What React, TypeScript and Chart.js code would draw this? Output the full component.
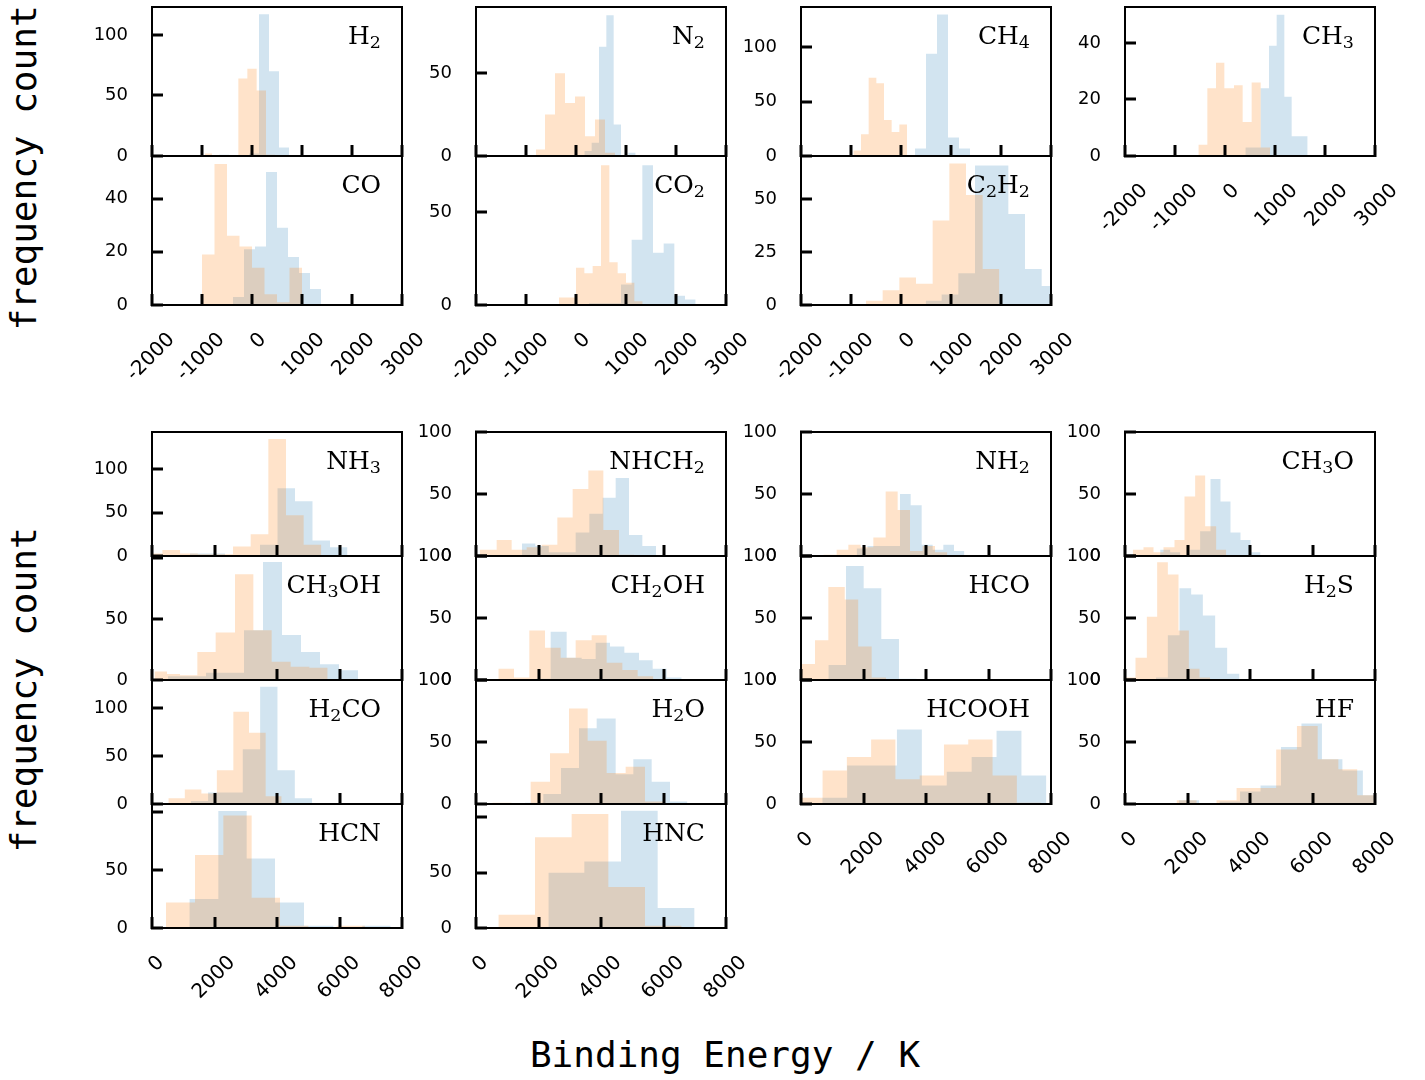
import React, { useEffect, useRef } from "react";
import { Chart, registerables } from "chart.js";

Chart.register(...registerables);

// ---------- tick labels ----------
const topXTicks = [-2000, -1000, 0, 1000, 2000, 3000];
const bottomXTicks = [0, 2000, 4000, 6000, 8000];

// ---------- top block (x: -2000..3000) ----------
const h2OrangeEdges = [-940, -800, -273, -93, 93, 280, 460];
const h2OrangeCounts = [2, 0, 64, 72, 54, 1];
const h2BlueEdges = [-660, -460, -260, -60, 140, 340, 540, 740];
const h2BlueCounts = [1, 0, 0, 2, 117, 70, 7];

const n2OrangeEdges = [-800, -620, -420, -220, -20, 180, 380, 580, 780];
const n2OrangeCounts = [4, 25, 50, 32, 36, 12, 22, 2];
const n2BlueEdges = [167, 313, 460, 607, 753, 900, 1047, 1193];
const n2BlueCounts = [3, 8, 66, 85, 19, 0, 2];

const ch4OrangeEdges = [-953, -800, -647, -493, -340, -187, -33, 120, 273];
const ch4OrangeCounts = [5, 20, 72, 67, 33, 22, 29, 1];
const ch4BlueEdges = [280, 500, 720, 940, 1160, 1380];
const ch4BlueCounts = [7, 94, 130, 17, 7];

const ch3OrangeEdges = [-533, -353, -180, -13, 180, 353, 533, 713, 900];
const ch3OrangeCounts = [4, 24, 33, 24, 25, 12, 26, 3];
const ch3BlueEdges = [407, 560, 713, 880, 1033, 1187, 1333, 1493, 1653];
const ch3BlueCounts = [3, 3, 24, 39, 50, 21, 7, 7];

const coOrangeEdges = [-1000, -750, -500, -250, 0, 250, 500, 750, 1000];
const coOrangeCounts = [19, 53, 26, 22, 14, 4, 1, 14];
const coBlueEdges = [-380, -160, 60, 280, 500, 720, 940, 1160, 1380];
const coBlueCounts = [3, 21, 22, 50, 29, 18, 12, 6];

const co2OrangeEdges = [-340, -173, 0, 167, 333, 500, 667, 833, 1000, 1167, 1333];
const co2OrangeCounts = [4, 4, 20, 17, 21, 75, 23, 17, 12, 2];
const co2BlueEdges = [260, 473, 687, 900, 1113, 1327, 1540, 1753, 1967, 2180, 2393];
const co2BlueCounts = [1, 1, 1, 11, 35, 75, 28, 33, 5, 3];

const c2h2OrangeEdges = [-700, -367, -33, 300, 633, 967, 1300, 1633, 1967];
const c2h2OrangeCounts = [2, 7, 13, 10, 40, 67, 52, 17];
const c2h2BlueEdges = [493, 813, 1147, 1480, 1813, 2147, 2480, 2813, 3147];
const c2h2BlueCounts = [2, 5, 15, 66, 66, 43, 17, 9];

// ---------- bottom block (x: 0..8000) ----------
const nh3OrangeEdges = [-232, 333, 898, 1463, 2028, 2593, 3158, 3723, 4288, 4853, 5418];
const nh3OrangeCounts = [3, 7, 3, 2, 2, 11, 25, 135, 47, 13];
const nh3BlueEdges = [1216, 1776, 2336, 2896, 3456, 4016, 4576, 5136, 5696, 6256];
const nh3BlueCounts = [3, 3, 1, 1, 13, 78, 63, 18, 10];

const ch3ohOrangeEdges = [80, 480, 896, 1451, 2037, 2656, 3243, 3829, 4437, 5035, 5621];
const ch3ohOrangeCounts = [7, 5, 4, 23, 39, 87, 41, 15, 11, 10];
const ch3ohBlueEdges = [512, 1120, 1728, 2336, 2944, 3552, 4160, 4768, 5376, 5984, 6592];
const ch3ohBlueCounts = [3, 3, 6, 6, 41, 97, 37, 23, 13, 8];

const h2coOrangeEdges = [523, 1050, 1580, 2075, 2603, 3104, 3637, 4149];
const h2coOrangeCounts = [6, 15, 11, 35, 96, 74, 8];
const h2coBlueEdges = [1240, 1795, 2350, 2905, 3460, 4015, 4570, 5125];
const h2coBlueCounts = [3, 12, 12, 57, 122, 35, 6];

const hcnOrangeEdges = [448, 1376, 2283, 3189, 4096, 5003, 5909, 6816];
const hcnOrangeCounts = [22, 63, 97, 26, 2, 0, 2];
const hcnBlueEdges = [1195, 2123, 3029, 3936, 4864, 5803, 6731, 7637];
const hcnBlueCounts = [25, 101, 60, 22, 2, 0, 2];

const nhch2OrangeEdges = [128, 661, 1141, 1621, 2101, 2603, 3093, 3595, 4075, 4576, 5056];
const nhch2OrangeCounts = [5, 13, 5, 7, 9, 31, 54, 69, 21, 1];
const nhch2BlueEdges = [1469, 1899, 2329, 2759, 3189, 3627, 4053, 4469, 4896, 5323, 5760];
const nhch2BlueCounts = [10, 8, 3, 3, 19, 34, 47, 63, 17, 8];

const ch2ohOrangeEdges = [714, 1216, 1706, 2208, 2709, 3189, 3701, 4181, 4683, 5173, 5675];
const ch2ohOrangeCounts = [9, 2, 40, 26, 18, 32, 36, 14, 8, 3];
const ch2ohBlueEdges = [1925, 2389, 2901, 3381, 3829, 4288, 4747, 5216, 5653, 6101, 6581];
const ch2ohBlueCounts = [1, 39, 18, 17, 30, 27, 22, 16, 9, 2];

const h2oOrangeEdges = [523, 1136, 1749, 2368, 2976, 3573, 4181, 4789, 5408, 5995];
const h2oOrangeCounts = [1, 0, 18, 41, 77, 51, 25, 30, 2];
const h2oBlueEdges = [1568, 2155, 2720, 3296, 3861, 4469, 5035, 5621, 6208, 6763];
const h2oBlueCounts = [1, 8, 29, 61, 69, 24, 36, 18, 2];

const hncOrangeEdges = [715, 1888, 3061, 4235, 5408, 6581];
const hncOrangeCounts = [12, 82, 103, 37, 2];
const hncBlueEdges = [2315, 3467, 4640, 5813, 6987, 7733];
const hncBlueCounts = [50, 60, 106, 18, 1];

const nh2OrangeEdges = [715, 1141, 1515, 1909, 2315, 2709, 3093, 3488, 3893, 4288, 4683];
const nh2OrangeCounts = [1, 5, 9, 7, 15, 52, 37, 4, 8, 3];
const nh2BlueEdges = [1780, 2127, 2474, 2821, 3168, 3509, 3861, 4213, 4555, 4896, 5227];
const nh2BlueCounts = [6, 8, 8, 8, 50, 41, 9, 5, 9, 4];

const hcoOrangeEdges = [21, 448, 875, 1400, 1830, 2261, 2720];
const hcoOrangeCounts = [13, 32, 75, 65, 27, 2];
const hcoBlueEdges = [875, 1440, 2005, 2570, 3135, 3700];
const hcoBlueCounts = [12, 92, 74, 33, 1];

const hcoohOrangeEdges = [0, 690, 1467, 2244, 3021, 3798, 4575, 5352, 6129, 6906, 7683];
const hcoohOrangeCounts = [5, 27, 38, 52, 20, 23, 48, 52, 23, 1];
const hcoohBlueEdges = [680, 1477, 2274, 3070, 3867, 4664, 5461, 6258, 7054, 7851];
const hcoohBlueCounts = [5, 31, 31, 60, 15, 26, 38, 59, 23];

const ch3oOrangeEdges = [251, 592, 912, 1232, 1584, 1904, 2245, 2565, 2917, 3237];
const ch3oOrangeCounts = [5, 7, 3, 7, 13, 48, 65, 24, 5];
const ch3oBlueEdges = [1125, 1445, 1765, 2085, 2405, 2736, 3056, 3376, 3696, 4016, 4336];
const ch3oBlueCounts = [5, 3, 0, 5, 20, 62, 44, 19, 13, 3];

const h2sOrangeEdges = [0, 336, 699, 1029, 1371, 1712, 2043, 2384, 2725];
const h2sOrangeCounts = [2, 18, 51, 95, 85, 40, 9, 2];
const h2sBlueEdges = [987, 1371, 1744, 2117, 2491, 2885, 3269, 3664];
const h2sBlueCounts = [2, 36, 74, 69, 52, 26, 5];

const hfOrangeEdges = [1650, 2290, 2930, 3570, 4200, 4838, 5502, 6166, 6828, 7430, 8070];
const hfOrangeCounts = [3, 0, 3, 13, 13, 44, 63, 36, 28, 7];
const hfBlueEdges = [1717, 2372, 3027, 3682, 4337, 4992, 5647, 6302, 6957, 7612, 8267];
const hfBlueCounts = [3, 0, 2, 10, 15, 46, 65, 36, 27, 7];

// ---------- styling / layout ----------
const ORANGE = "rgba(255, 127, 14, 0.22)";
const BLUE = "rgba(31, 119, 180, 0.2)";

const COLS = [152, 476, 801, 1125];
const TOP_ROWS = [7, 156];
const BOT_ROWS = [432, 556, 680, 804];
const PW = 250;
const TOP_H = 149;
const BOT_H = 124;

const YW = 75;
const PT = 15;
const PR = 45;
const XB_LAB = 95;
const XB_NO = 15;

const panels = [
  { label: "H_2", sec: "top", col: 0, row: 0, o: [h2OrangeEdges, h2OrangeCounts], b: [h2BlueEdges, h2BlueCounts], yMax: 123, yTicks: [0, 50, 100], hidden: [], xLab: false },
  { label: "N_2", sec: "top", col: 1, row: 0, o: [n2OrangeEdges, n2OrangeCounts], b: [n2BlueEdges, n2BlueCounts], yMax: 90, yTicks: [0, 50], hidden: [], xLab: false },
  { label: "CH_4", sec: "top", col: 2, row: 0, o: [ch4OrangeEdges, ch4OrangeCounts], b: [ch4BlueEdges, ch4BlueCounts], yMax: 137, yTicks: [0, 50, 100], hidden: [], xLab: false },
  { label: "CH_3", sec: "top", col: 3, row: 0, o: [ch3OrangeEdges, ch3OrangeCounts], b: [ch3BlueEdges, ch3BlueCounts], yMax: 52.7, yTicks: [0, 20, 40], hidden: [], xLab: true },
  { label: "CO", sec: "top", col: 0, row: 1, o: [coOrangeEdges, coOrangeCounts], b: [coBlueEdges, coBlueCounts], yMax: 56, yTicks: [0, 20, 40], hidden: [], xLab: true },
  { label: "CO_2", sec: "top", col: 1, row: 1, o: [co2OrangeEdges, co2OrangeCounts], b: [co2BlueEdges, co2BlueCounts], yMax: 80, yTicks: [0, 50], hidden: [], xLab: true },
  { label: "C_2H_2", sec: "top", col: 2, row: 1, o: [c2h2OrangeEdges, c2h2OrangeCounts], b: [c2h2BlueEdges, c2h2BlueCounts], yMax: 70.5, yTicks: [0, 25, 50], hidden: [], xLab: true },

  { label: "NH_3", sec: "bot", col: 0, row: 0, o: [nh3OrangeEdges, nh3OrangeCounts], b: [nh3BlueEdges, nh3BlueCounts], yMax: 143, yTicks: [0, 50, 100], hidden: [], xLab: false },
  { label: "CH_3OH", sec: "bot", col: 0, row: 1, o: [ch3ohOrangeEdges, ch3ohOrangeCounts], b: [ch3ohBlueEdges, ch3ohBlueCounts], yMax: 102, yTicks: [0, 50, 100], hidden: [100], xLab: false },
  { label: "H_2CO", sec: "bot", col: 0, row: 2, o: [h2coOrangeEdges, h2coOrangeCounts], b: [h2coBlueEdges, h2coBlueCounts], yMax: 129, yTicks: [0, 50, 100], hidden: [], xLab: false },
  { label: "HCN", sec: "bot", col: 0, row: 3, o: [hcnOrangeEdges, hcnOrangeCounts], b: [hcnBlueEdges, hcnBlueCounts], yMax: 107, yTicks: [0, 50, 100], hidden: [100], xLab: true },

  { label: "NHCH_2", sec: "bot", col: 1, row: 0, o: [nhch2OrangeEdges, nhch2OrangeCounts], b: [nhch2BlueEdges, nhch2BlueCounts], yMax: 100, yTicks: [0, 50, 100], hidden: [], xLab: false },
  { label: "CH_2OH", sec: "bot", col: 1, row: 1, o: [ch2ohOrangeEdges, ch2ohOrangeCounts], b: [ch2ohBlueEdges, ch2ohBlueCounts], yMax: 100, yTicks: [0, 50, 100], hidden: [], xLab: false },
  { label: "H_2O", sec: "bot", col: 1, row: 2, o: [h2oOrangeEdges, h2oOrangeCounts], b: [h2oBlueEdges, h2oBlueCounts], yMax: 100, yTicks: [0, 50, 100], hidden: [], xLab: false },
  { label: "HNC", sec: "bot", col: 1, row: 3, o: [hncOrangeEdges, hncOrangeCounts], b: [hncBlueEdges, hncBlueCounts], yMax: 112, yTicks: [0, 50, 100], hidden: [100], xLab: true },

  { label: "NH_2", sec: "bot", col: 2, row: 0, o: [nh2OrangeEdges, nh2OrangeCounts], b: [nh2BlueEdges, nh2BlueCounts], yMax: 100, yTicks: [0, 50, 100], hidden: [], xLab: false },
  { label: "HCO", sec: "bot", col: 2, row: 1, o: [hcoOrangeEdges, hcoOrangeCounts], b: [hcoBlueEdges, hcoBlueCounts], yMax: 100, yTicks: [0, 50, 100], hidden: [], xLab: false },
  { label: "HCOOH", sec: "bot", col: 2, row: 2, o: [hcoohOrangeEdges, hcoohOrangeCounts], b: [hcoohBlueEdges, hcoohBlueCounts], yMax: 100, yTicks: [0, 50, 100], hidden: [], xLab: true },

  { label: "CH_3O", sec: "bot", col: 3, row: 0, o: [ch3oOrangeEdges, ch3oOrangeCounts], b: [ch3oBlueEdges, ch3oBlueCounts], yMax: 100, yTicks: [0, 50, 100], hidden: [], xLab: false },
  { label: "H_2S", sec: "bot", col: 3, row: 1, o: [h2sOrangeEdges, h2sOrangeCounts], b: [h2sBlueEdges, h2sBlueCounts], yMax: 100, yTicks: [0, 50, 100], hidden: [], xLab: false },
  { label: "HF", sec: "bot", col: 3, row: 2, o: [hfOrangeEdges, hfOrangeCounts], b: [hfBlueEdges, hfBlueCounts], yMax: 100, yTicks: [0, 50, 100], hidden: [], xLab: true },
];

function steps(edges: number[], counts: number[]) {
  return edges.map((e, i) => ({ x: e, y: counts[Math.min(i, counts.length - 1)] }));
}

function geom(p: any) {
  const top = p.sec === "top";
  const L = COLS[p.col];
  const T = (top ? TOP_ROWS : BOT_ROWS)[p.row];
  const H = top ? TOP_H : BOT_H;
  return { top, L, T, H, W: PW };
}

function zeroPad(s: any) {
  s.paddingLeft = 0;
  s.paddingRight = 0;
  s.paddingTop = 0;
  s.paddingBottom = 0;
}

function HistPanel({ p }: { p: any }) {
  const ref = useRef<HTMLCanvasElement>(null);
  const { top, L, T, H, W } = geom(p);
  const XB = p.xLab ? XB_LAB : XB_NO;
  const cw = YW + W + PR;
  const ch = PT + H + XB;

  useEffect(() => {
    const xTicks = top ? topXTicks : bottomXTicks;
    const frame = { display: true, color: "#000", width: 2, z: 1 };
    const tickMarks = { display: true, drawOnChartArea: false, drawTicks: true, tickLength: -11, tickWidth: 3, tickColor: "#000", lineWidth: 2, color: "#000", z: 1 };
    const chart = new Chart(ref.current as HTMLCanvasElement, {
      type: "line",
      data: {
        datasets: [
          {
            data: steps(p.o[0], p.o[1]),
            fill: "origin",
            backgroundColor: ORANGE,
            borderColor: "transparent",
            borderWidth: 0,
            pointRadius: 0,
            stepped: "before",
            xAxisID: "x",
            yAxisID: "y",
          },
          {
            data: steps(p.b[0], p.b[1]),
            fill: "origin",
            backgroundColor: BLUE,
            borderColor: "transparent",
            borderWidth: 0,
            pointRadius: 0,
            stepped: "before",
            xAxisID: "x",
            yAxisID: "y",
          },
        ],
      },
      options: {
        animation: false,
        responsive: false,
        devicePixelRatio: 1,
        events: [],
        layout: { padding: { top: PT, right: PR, bottom: 0, left: 0 } },
        plugins: { legend: { display: false }, tooltip: { enabled: false }, title: { display: false } },
        scales: {
          x: {
            type: "linear",
            position: "bottom",
            min: xTicks[0],
            max: xTicks[xTicks.length - 1],
            afterBuildTicks: (s: any) => {
              s.ticks = xTicks.map((v) => ({ value: v }));
            },
            afterFit: (s: any) => {
              s.height = XB;
              zeroPad(s);
            },
            grid: tickMarks,
            border: frame,
            ticks: {
              display: p.xLab,
              autoSkip: false,
              minRotation: 45,
              maxRotation: 45,
              labelOffset: top ? 11 : 9,
              padding: 34,
              color: "#000",
              font: { family: "DejaVu Sans", size: 20 },
              showLabelBackdrop: (c: any) => !!c.tick && c.tick.value !== 0,
              backdropColor: "rgba(0,0,0,0)",
              callback: (v: any) => String(v),
            },
          },
          y: {
            type: "linear",
            position: "left",
            min: 0,
            max: p.yMax,
            afterBuildTicks: (s: any) => {
              s.ticks = p.yTicks.map((v: number) => ({ value: v }));
            },
            afterFit: (s: any) => {
              s.width = YW;
              zeroPad(s);
            },
            grid: tickMarks,
            border: frame,
            ticks: {
              padding: 35,
              color: "#000",
              font: { family: "DejaVu Sans", size: 18 },
              callback: (v: any) => (p.hidden.includes(v) ? "" : String(v)),
            },
          },
          xt: {
            type: "linear",
            position: "top",
            min: 0,
            max: 1,
            afterFit: (s: any) => {
              s.height = 0;
              zeroPad(s);
            },
            grid: { display: false, drawTicks: false, lineWidth: 2 },
            border: frame,
            ticks: { display: false },
          },
          yr: {
            type: "linear",
            position: "right",
            min: 0,
            max: 1,
            afterFit: (s: any) => {
              s.width = 0;
              zeroPad(s);
            },
            grid: { display: false, drawTicks: false, lineWidth: 2 },
            border: frame,
            ticks: { display: false },
          },
        },
      } as any,
    });
    return () => chart.destroy();
  }, []);

  return (
    <canvas
      ref={ref}
      width={cw}
      height={ch}
      style={{ position: "absolute", left: L - YW, top: T - PT, width: cw, height: ch }}
    />
  );
}

function PanelLabel({ p }: { p: any }) {
  const { L, T, W } = geom(p);
  const parts = p.label.split(/_(\d)/);
  return (
    <div
      style={{
        position: "absolute",
        left: L + W - 21 - 200,
        top: T + 16,
        width: 200,
        textAlign: "right",
        fontFamily: "'DejaVu Serif'",
        fontSize: 25,
        lineHeight: "25px",
        whiteSpace: "nowrap",
        color: "#000",
      }}
    >
      {parts.map((s: string, i: number) =>
        i % 2 === 1 ? (
          <span key={i} style={{ fontSize: "70%", verticalAlign: "-0.25em" }}>
            {s}
          </span>
        ) : (
          <span key={i}>{s}</span>
        )
      )}
    </div>
  );
}

const monoTitle: any = {
  position: "absolute",
  fontFamily: "'DejaVu Sans Mono'",
  fontSize: 36,
  lineHeight: 1,
  whiteSpace: "nowrap",
  color: "#000",
};

export default function App() {
  return (
    <div style={{ position: "absolute", left: 0, top: 0, width: 1425, height: 1080, background: "#fff", overflow: "hidden" }}>
      {panels.map((p, i) => (
        <HistPanel key={i} p={p} />
      ))}
      {panels.map((p, i) => (
        <PanelLabel key={"l" + i} p={p} />
      ))}
      <div style={{ ...monoTitle, left: 24, top: 168, transform: "translate(-50%, -50%) rotate(-90deg)" }}>frequency count</div>
      <div style={{ ...monoTitle, left: 24, top: 690, transform: "translate(-50%, -50%) rotate(-90deg)" }}>frequency count</div>
      <div style={{ ...monoTitle, left: 725, top: 1055, transform: "translate(-50%, -50%)" }}>Binding Energy / K</div>
    </div>
  );
}
